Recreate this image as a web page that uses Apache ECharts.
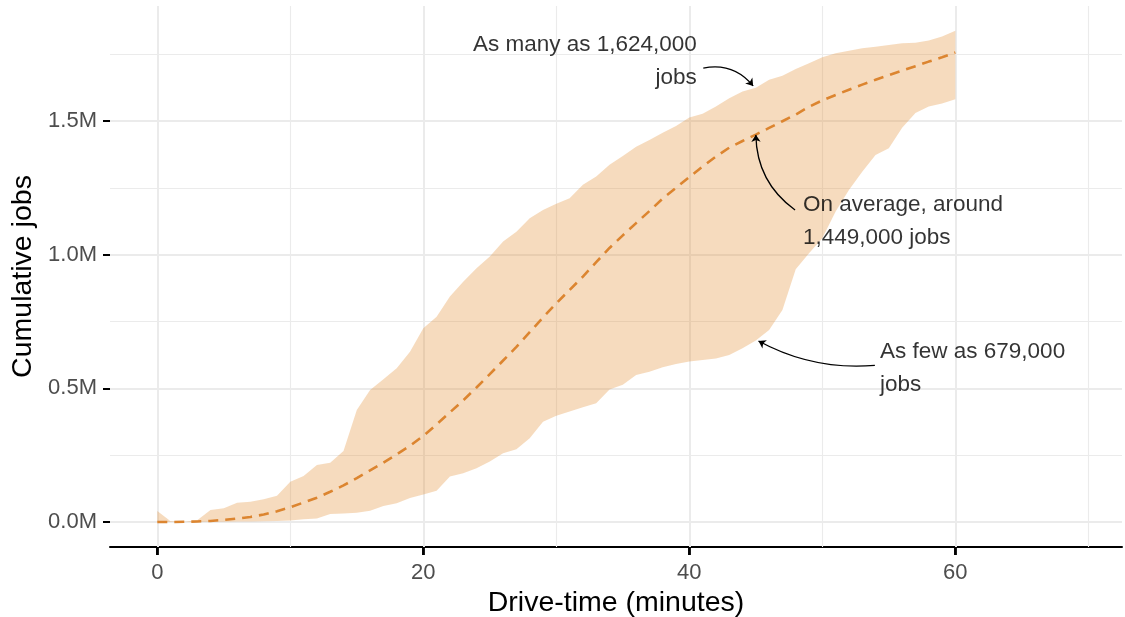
<!DOCTYPE html>
<html>
<head>
<meta charset="utf-8">
<script src="https://cdn.jsdelivr.net/npm/echarts@6/dist/echarts.min.js"></script>
<style>
  html, body { margin: 0; padding: 0; background: #fff; }
  #chart { width: 1125px; height: 617px; }
</style>
</head>
<body>
<div id="chart"></div>
<script>
// drive time in minutes
const minutes = [0, 1, 2, 3, 4, 5, 6, 7, 8, 9, 10, 11, 12, 13, 14, 15, 16, 17, 18, 19, 20,
  21, 22, 23, 24, 25, 26, 27, 28, 29, 30, 31, 32, 33, 34, 35, 36, 37, 38, 39, 40,
  41, 42, 43, 44, 45, 46, 47, 48, 49, 50, 51, 52, 53, 54, 55, 56, 57, 58, 59, 60];

// cumulative jobs, millions
const jobsMax = [0.041, 0.003, 0.000, 0.007, 0.045, 0.051, 0.072, 0.076, 0.085, 0.098, 0.151,
  0.172, 0.213, 0.222, 0.266, 0.419, 0.494, 0.534, 0.575, 0.637, 0.725,
  0.768, 0.843, 0.899, 0.949, 0.993, 1.049, 1.086, 1.136, 1.167, 1.190,
  1.211, 1.261, 1.292, 1.336, 1.369, 1.404, 1.429, 1.456, 1.481, 1.513,
  1.527, 1.554, 1.585, 1.610, 1.624, 1.654, 1.669, 1.694, 1.716, 1.738,
  1.753, 1.763, 1.772, 1.778, 1.784, 1.791, 1.793, 1.801, 1.816, 1.837];

const jobsMin = [0.000, 0.000, 0.000, 0.000, 0.001, 0.001, 0.002, 0.002, 0.003, 0.004, 0.006,
  0.010, 0.013, 0.030, 0.032, 0.035, 0.042, 0.060, 0.070, 0.090, 0.103,
  0.117, 0.170, 0.182, 0.201, 0.226, 0.257, 0.272, 0.313, 0.375, 0.397,
  0.413, 0.429, 0.444, 0.496, 0.513, 0.550, 0.562, 0.579, 0.591, 0.600,
  0.606, 0.612, 0.625, 0.650, 0.679, 0.718, 0.793, 0.945, 1.005, 1.061,
  1.161, 1.242, 1.310, 1.373, 1.398, 1.475, 1.530, 1.554, 1.565, 1.581];

const jobsMean = [0.000, 0.000, 0.001, 0.002, 0.004, 0.008, 0.013, 0.019, 0.028, 0.040, 0.055,
  0.073, 0.091, 0.113, 0.137, 0.164, 0.193, 0.222, 0.253, 0.285, 0.322,
  0.365, 0.410, 0.455, 0.503, 0.553, 0.604, 0.655, 0.710, 0.765, 0.818,
  0.868, 0.918, 0.972, 1.025, 1.072, 1.118, 1.163, 1.210, 1.250, 1.290,
  1.330, 1.367, 1.400, 1.425, 1.449, 1.474, 1.499, 1.524, 1.553, 1.577,
  1.597, 1.617, 1.636, 1.654, 1.671, 1.688, 1.705, 1.722, 1.738, 1.756];

const xTicks = [0, 20, 40, 60];
const xMinor = [10, 30, 50, 70];
const yTicks = [0, 0.5, 1.0, 1.5];
const yMinor = [0.25, 0.75, 1.25, 1.75];

// annotation text anchors [minute, millions]
const noteTexts = ['As many as 1,624,000\njobs', 'On average, around\n1,449,000 jobs', 'As few as 679,000\njobs'];
const noteAnchors = [[40.6, 1.723], [48.5, 1.126], [54.3, 0.576]];
const notePos = ['left', 'right', 'right'];
// arrows from text to point
const arrowFrom = [[41.05, 1.698], [47.95, 1.167], [53.95, 0.586]];
const arrowTo = [[44.8, 1.631], [45.0, 1.448], [45.2, 0.677]];
const arrowCurve = [0.3, 0.25, 0.15];

const font = "'Liberation Sans', Arial, Helvetica, sans-serif";
const gridColor = '#ebebeb';
const xMin = -3.556, xMax = 72.53, yMin = -0.0935, yMax = 1.93;

let myChart = echarts.init(document.getElementById('chart'), null, { renderer: 'canvas' });

const meanData = minutes.map((m, i) => [m, jobsMean[i]]);

const gridLines = [
  ...xTicks.map(v => ({ xAxis: v, lineStyle: { width: 2 } })),
  ...xMinor.map(v => ({ xAxis: v, lineStyle: { width: 1.1 } })),
  ...yTicks.map(v => ({ yAxis: v, lineStyle: { width: 2 } })),
  ...yMinor.map(v => ({ yAxis: v, lineStyle: { width: 1.1 } }))
];

const option = {
  animation: false,
  grid: { left: 110, right: 3, top: 6, bottom: 70, outerBoundsMode: 'none' },
  xAxis: {
    type: 'value',
    min: xMin,
    max: xMax,
    name: 'Drive-time (minutes)',
    nameLocation: 'middle',
    nameGap: 42,
    nameTextStyle: { fontFamily: font, fontSize: 28.5, color: '#000' },
    axisLine: { show: true, onZero: false, lineStyle: { color: '#000', width: 2 } },
    axisTick: { show: true, customValues: xTicks, length: 8, lineStyle: { color: '#000', width: 2.5 } },
    axisLabel: { customValues: xTicks, margin: 15, fontFamily: font, fontSize: 22, color: '#4d4d4d' },
    splitLine: { show: false },
    minorSplitLine: { show: false }
  },
  yAxis: {
    type: 'value',
    min: yMin,
    max: yMax,
    name: 'Cumulative jobs',
    nameLocation: 'middle',
    nameGap: 72,
    nameTextStyle: { fontFamily: font, fontSize: 28.5, color: '#000' },
    axisLine: { show: false, onZero: false },
    axisTick: { show: true, customValues: yTicks, length: 7, lineStyle: { color: '#000', width: 2 } },
    axisLabel: {
      customValues: yTicks, margin: 13, fontFamily: font, fontSize: 22, color: '#4d4d4d',
      formatter: v => v.toFixed(1) + 'M'
    },
    splitLine: { show: false }
  },
  series: [
    {
      name: 'range',
      type: 'custom',
      data: [[0, 0]],
      renderItem: (params, api) => {
        const top = minutes.map((m, i) => api.coord([m, jobsMax[i]]));
        const bottom = minutes.map((m, i) => api.coord([m, jobsMin[i]])).reverse();
        return {
          type: 'polygon',
          shape: { points: top.concat(bottom) },
          style: { fill: 'rgba(226,136,40,0.3)' }
        };
      },
      z: 3
    },
    {
      // tick marks under the x axis line
      name: 'xticks',
      type: 'custom',
      silent: true,
      clip: false,
      data: [[0, 0]],
      renderItem: (params, api) => ({
        type: 'group',
        children: xTicks.map(v => {
          const p = api.coord([v, yMin]);
          return {
            type: 'line',
            shape: { x1: p[0], y1: p[1], x2: p[0], y2: p[1] + 8 },
            style: { stroke: '#000', lineWidth: 2.5 }
          };
        })
      }),
      z: 10
    },
    {
      name: 'mean',
      type: 'line',
      data: meanData,
      symbol: 'none',
      lineStyle: { color: '#dc8530', width: 2.6, type: [10, 7] },
      z: 4,
      markLine: {
        silent: true,
        z: 1,
        symbol: 'none',
        label: { show: false },
        lineStyle: { color: gridColor, type: 'solid' },
        data: gridLines
      }
    },
    {
      name: 'arrows',
      type: 'lines',
      coordinateSystem: 'cartesian2d',
      data: arrowFrom.map((p, i) => ({
        coords: [p, arrowTo[i]],
        lineStyle: { curveness: arrowCurve[i] }
      })),
      symbol: ['none', 'arrow'],
      symbolSize: 7,
      lineStyle: { color: '#000', width: 1.3, opacity: 1 },
      z: 5
    },
    {
      name: 'notes',
      type: 'scatter',
      data: noteAnchors.map((p, i) => ({
        value: p,
        label: { formatter: noteTexts[i], position: notePos[i], align: notePos[i] === 'left' ? 'right' : 'left' }
      })),
      symbolSize: 1,
      itemStyle: { color: 'rgba(0,0,0,0)' },
      label: {
        show: true,
        distance: 0,
        verticalAlign: 'middle',
        fontFamily: font,
        fontSize: 22.5,
        lineHeight: 33,
        color: '#000'
      },
      z: 6
    }
  ]
};

myChart.setOption(option);
</script>
</body>
</html>
